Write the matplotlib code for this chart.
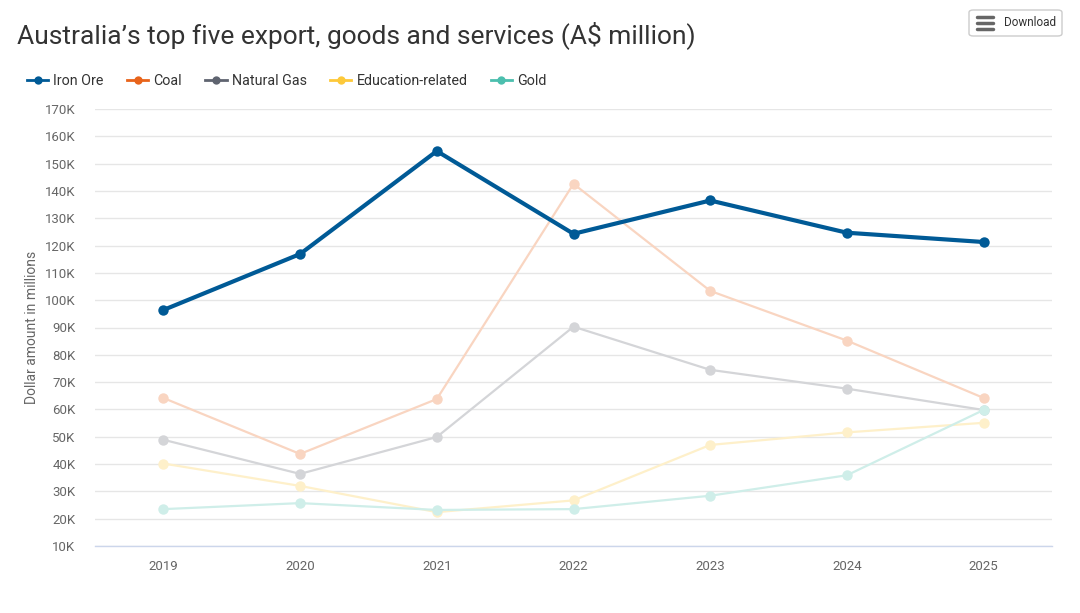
import matplotlib
matplotlib.use("Agg")
import matplotlib.pyplot as plt
from matplotlib.patches import FancyBboxPatch
from matplotlib.lines import Line2D
from matplotlib.colors import to_rgb

plt.rcParams['font.family'] = ['Roboto', 'DejaVu Sans']

years = ["2019", "2020", "2021", "2022", "2023", "2024", "2025"]
iron_ore = [96.4, 116.9, 154.6, 124.3, 136.5, 124.7, 121.3]
coal = [64.2, 43.7, 63.8, 142.6, 103.4, 85.2, 64.2]
natural_gas = [48.9, 36.4, 49.9, 90.3, 74.5, 67.6, 59.8]
education = [40.2, 32.0, 22.4, 26.7, 47.0, 51.6, 55.1]
gold = [23.5, 25.7, 23.2, 23.5, 28.4, 35.9, 59.8]

series_names = ["Iron Ore", "Coal", "Natural Gas", "Education-related", "Gold"]
series_values = [iron_ore, coal, natural_gas, education, gold]
colors = ["#005a96", "#e8641b", "#5f6470", "#fdc93a", "#4cbfae"]
yticks = list(range(10, 171, 10))


def faded(c, a=0.27):
    r, g, b = to_rgb(c)
    return (1 - a + a * r, 1 - a + a * g, 1 - a + a * b)


fig = plt.figure(figsize=(10.8, 6.13), dpi=100)
ax = fig.add_axes([95/1080, 1 - 546/613, (1052 - 95)/1080, (546 - 109)/613])

x = list(range(len(years)))
for name, vals, c in zip(series_names[1:], series_values[1:], colors[1:]):
    ax.plot(x, vals, color=faded(c), lw=1.6, marker='o', ms=7.5, mew=0, zorder=2,
            solid_joinstyle='round')
ax.plot(x, iron_ore, color=colors[0], lw=3, marker='o', ms=7.5, mew=0, zorder=5,
        solid_joinstyle='round')

ax.set_xlim(-0.5, 6.5)
ax.set_ylim(10, 170)
ax.set_yticks(yticks)
ax.set_yticklabels([f"{v}K" for v in yticks])
ax.set_xticks(x)
ax.set_xticklabels(years)
ax.grid(axis='y', color='#e6e6e6', lw=1)
ax.set_axisbelow(True)
for s in ['top', 'right', 'left']:
    ax.spines[s].set_visible(False)
ax.spines['bottom'].set_color('#ccd6eb')
ax.spines['bottom'].set_linewidth(1)
ax.tick_params(axis='both', length=0, colors='#666666', labelsize=9.5)
ax.tick_params(axis='x', pad=10)
ax.tick_params(axis='y', pad=14)
ax.set_ylabel("Dollar amount in millions", color='#666666', fontsize=10, labelpad=4.5)

fig.text(17/1080, 1 - 35/613, "Australia\u2019s top five export, goods and services (A$ million)",
         fontsize=19, color='#333333', va='center', ha='left')

# legend
handles = [Line2D([0], [0], color=c, lw=2, marker='o', ms=6, mew=0) for c in colors]
leg = fig.legend(handles, series_names, loc='center left', bbox_to_anchor=(17/1080, 1 - 81/613),
                 ncol=5, frameon=False, fontsize=10.3, handlelength=1.5, handletextpad=0.35,
                 columnspacing=1.62, labelcolor='#333333', borderpad=0.2)

# download button
btn = FancyBboxPatch((969/1080, 1 - 36/613), 93/1080, 26/613, boxstyle="round,pad=0,rounding_size=0.004",
                     transform=fig.transFigure, facecolor='white', edgecolor='#cccccc', lw=1)
fig.patches.append(btn)
for yy in [17, 23, 29]:
    fig.add_artist(Line2D([977/1080, 993/1080], [1 - yy/613, 1 - yy/613], color='#666666', lw=2.5,
                          solid_capstyle='round', transform=fig.transFigure))
fig.text(1004/1080, 1 - 23/613, "Download", fontsize=8.5, color='#333333', va='center', ha='left')

fig.savefig("out.png", dpi=100, facecolor='white')
